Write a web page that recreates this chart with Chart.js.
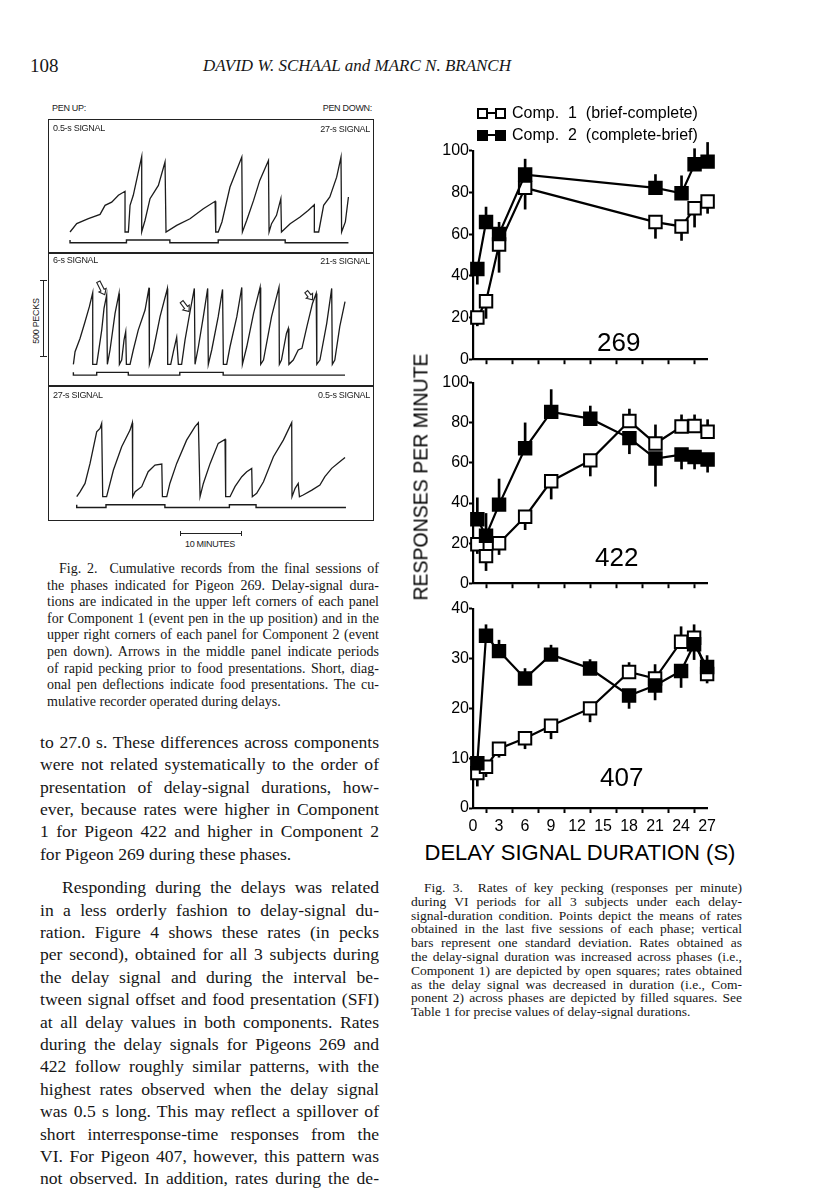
<!DOCTYPE html>
<html>
<head>
<meta charset="utf-8">
<script src="https://cdn.jsdelivr.net/npm/chart.js@4.4.1/dist/chart.umd.min.js"></script>
<style>
  body { margin: 0; background: #fff; }
  #page { position: relative; width: 816px; height: 1193px; overflow: hidden; background: #fff;
          font-family: "Liberation Serif", "Times New Roman", serif; color: #161616; }
  canvas, .abs { position: absolute; }
  .ln { position: absolute; white-space: pre; }
  .sans { font-family: "Liberation Sans", Arial, sans-serif; }
  .lbl { position: absolute; font-family: "Liberation Sans", Arial, sans-serif; font-size: 9px;
         line-height: 10px; white-space: nowrap; color: #222; letter-spacing: -0.3px; }
  .box { position: absolute; border: 1.5px solid #222; box-sizing: border-box; }
  .sq { position: absolute; width: 11px; height: 11px; box-sizing: border-box; border: 2px solid #000; }
</style>
</head>
<body>
<div id="page">
  <div class="abs" style="left:30px;top:56px;font-size:19px;line-height:20px;">108</div>
  <div class="abs" style="left:203px;top:56px;font-size:17px;line-height:20px;font-style:italic;">DAVID W. SCHAAL and MARC N. BRANCH</div>

  <!-- Fig. 2 cumulative records -->
  <div class="lbl" style="left:52px;top:103px;">PEN UP:</div>
  <div class="lbl" style="right:444px;top:103px;">PEN DOWN:</div>
  <div class="box" style="left:48px;top:119px;width:326px;height:402px;"></div>
  <div class="abs" style="left:48px;top:252px;width:326px;height:1.5px;background:#222;"></div>
  <div class="abs" style="left:48px;top:385px;width:326px;height:1.5px;background:#222;"></div>
  <canvas id="rec1" width="322" height="128" style="left:50px;top:124px;"></canvas>
  <canvas id="rec2" width="322" height="130" style="left:50px;top:255px;"></canvas>
  <canvas id="rec3" width="322" height="130" style="left:50px;top:388px;"></canvas>
  <div class="lbl" style="left:53px;top:123px;">0.5-s SIGNAL</div>
  <div class="lbl" style="right:446px;top:124px;">27-s SIGNAL</div>
  <div class="lbl" style="left:53px;top:255px;">6-s SIGNAL</div>
  <div class="lbl" style="right:446px;top:256px;">21-s SIGNAL</div>
  <div class="lbl" style="left:53px;top:390px;">27-s SIGNAL</div>
  <div class="lbl" style="right:446px;top:390px;">0.5-s SIGNAL</div>
  <div class="abs" style="left:43px;top:280px;width:1.2px;height:77px;background:#222;"></div>
  <div class="abs" style="left:40px;top:280px;width:7px;height:1.2px;background:#222;"></div>
  <div class="abs" style="left:40px;top:356px;width:7px;height:1.2px;background:#222;"></div>
  <div class="lbl" style="left:36px;top:321px;transform:translate(-50%,-50%) rotate(-90deg);">500 PECKS</div>
  <div class="abs" style="left:180px;top:533px;width:62px;height:1.2px;background:#222;"></div>
  <div class="abs" style="left:180px;top:531px;width:1.2px;height:5px;background:#222;"></div>
  <div class="abs" style="left:241px;top:531px;width:1.2px;height:5px;background:#222;"></div>
  <div class="lbl" style="left:185px;top:539px;">10 MINUTES</div>

  <!-- Fig. 3 legend -->
  <div class="sq" style="left:477px;top:108px;background:#fff;"></div>
  <div class="abs" style="left:487px;top:112px;width:9px;height:2px;background:#000;"></div>
  <div class="sq" style="left:495px;top:108px;background:#fff;"></div>
  <div class="abs sans" style="left:512px;top:103px;font-size:16px;line-height:20px;white-space:pre;color:#000;">Comp.  1  (brief-complete)</div>
  <div class="sq" style="left:477px;top:130px;background:#000;"></div>
  <div class="abs" style="left:487px;top:134px;width:9px;height:2px;background:#000;"></div>
  <div class="sq" style="left:495px;top:130px;background:#000;"></div>
  <div class="abs sans" style="left:512px;top:125px;font-size:16px;line-height:20px;white-space:pre;color:#000;">Comp.  2  (complete-brief)</div>

  <canvas id="p269" width="295" height="230" style="left:425px;top:140px;"></canvas>
  <canvas id="p422" width="295" height="222" style="left:425px;top:372px;"></canvas>
  <canvas id="p407" width="295" height="240" style="left:425px;top:598px;"></canvas>
  <div class="abs sans" style="left:421px;top:477px;transform:translate(-50%,-50%) rotate(-90deg);font-size:19.5px;white-space:nowrap;color:#000;">RESPONSES PER MINUTE</div>
  <div class="abs sans" style="left:580px;top:853px;transform:translate(-50%,-50%);font-size:22px;white-space:nowrap;color:#000;">DELAY SIGNAL DURATION (S)</div>
  <div class="abs sans" style="left:597px;top:327px;font-size:26px;line-height:30px;color:#000;">269</div>
  <div class="abs sans" style="left:595px;top:542px;font-size:26px;line-height:30px;color:#000;">422</div>
  <div class="abs sans" style="left:600px;top:762px;font-size:26px;line-height:30px;color:#000;">407</div>
</div>

<script>
// ---- Fig. 3: response rates (responses per minute) ----
const delays = [0.5, 1.5, 3, 6, 9, 13.5, 18, 21, 24, 25.5, 27];
const delays269 = [0.5, 1.5, 3, 6, 21, 24, 25.5, 27];
const xTickValues = [0, 3, 6, 9, 12, 15, 18, 21, 24, 27];
const yTicks100 = [0, 20, 40, 60, 80, 100];
const yTicks40 = [0, 10, 20, 30, 40];

// open squares = Comp. 1, filled = Comp. 2; sd sign gives the side the bar was drawn on
const comp1_269 = [20, 27.8, 55, 82.2, 65.8, 63.7, 72.4, 75.7];
const sd1_269 = [-4, -8.2, -13.3, -10.2, -7.8, -6.7, -9, -5.7];
const comp2_269 = [43.3, 65.8, 60.1, 88.6, 82.2, 79.6, 93.5, 94.8];
const sd2_269 = [-7.3, 7.2, 5.6, 7.4, 6.4, 8.4, 7.5, 9.2];

const comp1_422 = [19.4, 13.5, 19.9, 33.2, 50.9, 61.3, 80.9, 69.7, 78.2, 78.4, 75.6];
const sd1_422 = [-4.6, -7.2, -5.6, -6.5, -8.9, -7.8, 6, 9.3, 5.8, 5.6, 6];
const comp2_422 = [31.9, 23.7, 39.2, 67.3, 85.5, 82.1, 72.4, 62.2, 64.2, 63, 61.7];
const sd2_422 = [10.7, 11.1, 12.8, 12.7, 11.1, 6.3, -7.8, -13.8, -7.2, -6, -6.3];

const comp1_407 = [7.0, 8.3, 11.9, 14.0, 16.5, 20, 27.3, 26, 33.4, 34.2, 26.9];
const sd1_407 = [-2.6, -2.0, -1.7, -2.1, -2.6, -2.7, 1.9, 2.8, 3, 2.6, -1.8];
const comp2_407 = [9.0, 34.6, 31.5, 26, 30.8, 28, 22.6, 24.6, 27.5, 32.9, 28.3];
const sd2_407 = [-1.5, 2.2, 2.2, 2, 1.9, 1.8, -2.6, -2.9, -3.3, -3.1, 2.3];

// ---- Fig. 2: cumulative records, Pigeon 269 (minutes, cumulative pecks) ----
const rec1Min = [0, 1.08, 2.96, 4.84, 5.65, 6.72, 7.80, 8.87, 8.87, 9.41, 9.68, 10.2, 11.56, 11.56, 12.1, 12.9, 14.25, 15.32, 15.48, 17.2, 19.35, 21.5, 23.4, 23.5, 23.9, 24.5, 25.8, 27.7, 27.8, 28.5, 29.6, 30.6, 32.0, 32.1, 32.5, 33.3, 34.0, 34.1, 35.5, 37.1, 38.4, 39.4, 39.4, 40.1, 40.9, 41.9, 43.0, 43.7, 43.8, 44.4, 44.9];
const rec1Pecks = [0, 54, 86, 114, 173, 194, 238, 264, 0, 0, 173, 238, 490, 0, 76, 216, 302, 454, 0, 43, 86, 151, 199, 0, 0, 65, 292, 486, 0, 76, 205, 335, 464, 0, 54, 108, 216, 0, 54, 97, 140, 177, 0, 0, 173, 227, 356, 486, 0, 65, 227];
const pen1Min = [0, 9.1, 16.1, 23.9, 34.7, 39.9, 44.9];
const pen1Up = [1, 0, 1, 0, 1, 0, 0];

const rec2Min = [0.54, 0.81, 1.61, 2.42, 3.12, 3.66, 3.66, 4.30, 5.11, 5.48, 5.91, 6.02, 6.45, 7.26, 7.90, 7.96, 8.33, 8.71, 8.98, 9.09, 9.68, 10.2, 11.0, 12.1, 12.74, 12.8, 13.44, 14.52, 15.7, 15.75, 16.24, 16.67, 17.2, 17.47, 18.0, 18.55, 19.35, 20.05, 20.16, 20.7, 21.5, 22.2, 22.3, 22.85, 23.9, 24.6, 24.73, 25.27, 25.8, 26.9, 27.7, 27.8, 28.5, 29.6, 30.65, 30.75, 31.2, 32.5, 33.7, 33.76, 34.1, 34.9, 35.2, 35.3, 36.0, 36.8, 37.4, 38.2, 39.1, 39.7, 39.8, 40.3, 41.4, 42.2, 42.3, 42.7, 43.5, 44.35];
const rec2Pecks = [0, 82, 168, 276, 374, 464, 0, 0, 222, 363, 449, 0, 93, 330, 460, 0, 28, 158, 212, 0, 0, 93, 222, 352, 497, 0, 93, 309, 492, 0, 0, 82, 175, 0, 0, 158, 341, 492, 0, 114, 309, 492, 0, 93, 309, 486, 0, 0, 114, 309, 499, 0, 114, 330, 499, 0, 28, 309, 499, 0, 28, 201, 233, 0, 28, 93, 104, 244, 395, 460, 0, 28, 266, 492, 0, 28, 244, 406];
const pen2Min = [0.54, 4.3, 9.4, 17.7, 24.7, 35.7, 44.35];
const pen2Up = [1, 0, 1, 0, 1, 0, 0];
// arrows marking rapid pecking before food: [fromMin, fromPecks, toMin, toPecks]
const arrows2 = [[4.57, 536, 5.6, 452], [18.0, 406, 19.2, 343], [38.1, 471, 39.1, 419]];

const rec3Min = [1.08, 1.61, 2.42, 3.23, 4.3, 4.84, 5.1, 5.27, 5.9, 7.0, 8.33, 9.68, 10.05, 10.1, 10.5, 11.56, 12.6, 13.7, 14.8, 14.9, 15.6, 16.1, 17.2, 18.8, 20.16, 20.7, 20.97, 21.5, 22.6, 23.9, 25.0, 25.1, 25.8, 26.6, 27.7, 28.5, 29.3, 29.4, 30.1, 31.2, 32.8, 34.4, 35.75, 35.8, 36.3, 36.8, 37.0, 37.6, 39.0, 40.3, 41.1, 42.2, 43.5, 44.35];
const rec3Pecks = [0, 32, 86, 216, 421, 443, 475, 0, 0, 173, 324, 432, 480, 0, 32, 65, 162, 205, 212, 0, 0, 86, 216, 367, 454, 480, 0, 86, 216, 346, 372, 0, 0, 65, 130, 162, 184, 0, 22, 97, 259, 367, 480, 0, 54, 86, 0, 11, 43, 76, 130, 184, 227, 255];
const pen3Min = [1.08, 5.8, 15.3, 25.7, 30.0, 37.5, 44.5];
const pen3Up = [1, 0, 1, 0, 1, 0, 0];

// ---- text ----
const fig2Caption = [
  'Fig. 2.  Cumulative records from the final sessions of',
  'the phases indicated for Pigeon 269. Delay-signal dura-',
  'tions are indicated in the upper left corners of each panel',
  'for Component 1 (event pen in the up position) and in the',
  'upper right corners of each panel for Component 2 (event',
  'pen down). Arrows in the middle panel indicate periods',
  'of rapid pecking prior to food presentations. Short, diag-',
  'onal pen deflections indicate food presentations. The cu-',
  'mulative recorder operated during delays.'
];
const fig3Caption = [
  'Fig. 3.  Rates of key pecking (responses per minute)',
  'during VI periods for all 3 subjects under each delay-',
  'signal-duration condition. Points depict the means of rates',
  'obtained in the last five sessions of each phase; vertical',
  'bars represent one standard deviation. Rates obtained as',
  'the delay-signal duration was increased across phases (i.e.,',
  'Component 1) are depicted by open squares; rates obtained',
  'as the delay signal was decreased in duration (i.e., Com-',
  'ponent 2) across phases are depicted by filled squares. See',
  'Table 1 for precise values of delay-signal durations.'
];
const bodyText = [
  'to 27.0 s. These differences across components',
  'were not related systematically to the order of',
  'presentation of delay-signal durations, how-',
  'ever, because rates were higher in Component',
  '1 for Pigeon 422 and higher in Component 2',
  'for Pigeon 269 during these phases.',
  'Responding during the delays was related',
  'in a less orderly fashion to delay-signal du-',
  'ration. Figure 4 shows these rates (in pecks',
  'per second), obtained for all 3 subjects during',
  'the delay signal and during the interval be-',
  'tween signal offset and food presentation (SFI)',
  'at all delay values in both components. Rates',
  'during the delay signals for Pigeons 269 and',
  '422 follow roughly similar patterns, with the',
  'highest rates observed when the delay signal',
  'was 0.5 s long. This may reflect a spillover of',
  'short interresponse-time responses from the',
  'VI. For Pigeon 407, however, this pattern was',
  'not observed. In addition, rates during the de-'
];

const page = document.getElementById('page');
function typeset(lines, o) {
  let top = o.top;
  lines.forEach((s, i) => {
    const d = document.createElement('div');
    d.className = 'ln';
    d.textContent = s;
    const ind = (o.indent[i] || 0);
    d.style.left = (o.left + ind) + 'px';
    d.style.top = top + 'px';
    d.style.fontSize = o.size + 'px';
    d.style.lineHeight = o.lh + 'px';
    page.appendChild(d);
    if (!o.ragged.includes(i)) {
      const w = d.getBoundingClientRect().width;
      const gaps = (s.match(/ /g) || []).length;
      if (gaps) d.style.wordSpacing = ((o.width - ind - w) / gaps) + 'px';
    }
    top += o.lh + ((o.gap && o.gap[i]) || 0);
  });
}
typeset(fig2Caption, { left: 47, top: 561, width: 332, lh: 16.6, size: 14, indent: { 0: 12 }, ragged: [8] });
typeset(fig3Caption, { left: 411, top: 881, width: 331, lh: 13.8, size: 13.5, indent: { 0: 13 }, ragged: [9] });
typeset(bodyText, { left: 40, top: 730.8, width: 339, lh: 22.4, size: 17.6, indent: { 6: 22 }, ragged: [5], gap: { 5: 11 } });

// ---- charts ----
Chart.defaults.font.family = '"Liberation Sans", Arial, sans-serif';
Chart.defaults.color = '#000';
Chart.defaults.animation = false;
Chart.defaults.plugins.legend.display = false;
Chart.defaults.plugins.tooltip.enabled = false;

function fitArea(chart, t) {
  for (let k = 0; k < 2; k++) {
    const a = chart.chartArea, p = chart.options.layout.padding;
    p.left += t.left - a.left;
    p.top += t.top - a.top;
    p.right += a.right - t.right;
    p.bottom += a.bottom - t.bottom;
    chart.update('none');
  }
}

function ratePanel(id, xs, open, openSd, filled, filledSd, yMax, yTicks, last, target) {
  const pts = v => xs.map((x, i) => ({ x, y: v[i] }));
  const bars = (v, sd) => xs.map((x, i) => ({ x, y: [v[i], v[i] + sd[i]] }));
  const lineDs = (v, fill, order) => ({
    type: 'line', data: pts(v), borderColor: '#000', borderWidth: 2.2, tension: 0,
    pointStyle: 'rect', pointRadius: 8.8, pointBorderWidth: 2, pointBorderColor: '#000',
    pointBackgroundColor: fill, clip: false, order
  });
  const barDs = (v, sd, order) => ({
    type: 'bar', data: bars(v, sd), backgroundColor: '#000', barThickness: 2,
    grouped: false, clip: false, order
  });
  const chart = new Chart(document.getElementById(id), {
    type: 'line',
    data: { datasets: [lineDs(filled, '#000', 0), lineDs(open, '#fff', 1), barDs(filled, filledSd, 2), barDs(open, openSd, 3)] },
    options: {
      responsive: false,
      layout: { padding: { left: 0, right: 0, top: 0, bottom: 0 } },
      scales: {
        x: {
          type: 'linear', min: 0, max: 27, offset: false,
          afterBuildTicks: s => { s.ticks = xTickValues.map(v => ({ value: v })); },
          grid: { drawOnChartArea: false, drawTicks: true, tickLength: 5, tickWidth: 2, tickColor: '#000' },
          border: { display: true, color: '#000', width: 2.2 },
          ticks: { display: last, font: { size: 16 }, padding: 4, maxRotation: 0, autoSkip: false }
        },
        y: {
          min: 0, max: yMax,
          afterBuildTicks: s => { s.ticks = yTicks.map(v => ({ value: v })); },
          grid: { drawOnChartArea: false, drawTicks: true, tickLength: 4, tickWidth: 2, tickColor: '#000' },
          border: { display: true, color: '#000', width: 2.2 },
          ticks: { font: { size: 16 }, padding: 0 }
        }
      }
    }
  });
  fitArea(chart, target);
  return chart;
}

ratePanel('p269', delays269, comp1_269, sd1_269, comp2_269, sd2_269, 100, yTicks100, false,
  { left: 48, right: 278, top: 13, bottom: 217 });
ratePanel('p422', delays, comp1_422, sd1_422, comp2_422, sd2_422, 100, yTicks100, false,
  { left: 48, right: 278, top: 13, bottom: 209 });
ratePanel('p407', delays, comp1_407, sd1_407, comp2_407, sd2_407, 40, yTicks40, true,
  { left: 48, right: 278, top: 14, bottom: 210 });

const penArrows = {
  id: 'penArrows',
  afterDatasetsDraw(chart, args, opts) {
    if (!opts.list) return;
    const { ctx, scales: { x, y } } = chart;
    opts.list.forEach(a => {
      const x1 = x.getPixelForValue(a[0]), y1 = y.getPixelForValue(a[1]);
      const x2 = x.getPixelForValue(a[2]), y2 = y.getPixelForValue(a[3]);
      const len = Math.hypot(x2 - x1, y2 - y1);
      ctx.save();
      ctx.translate(x1, y1);
      ctx.rotate(Math.atan2(y2 - y1, x2 - x1));
      ctx.beginPath();
      ctx.moveTo(0, -1.8); ctx.lineTo(len - 5, -1.8); ctx.lineTo(len - 5, -4);
      ctx.lineTo(len, 0); ctx.lineTo(len - 5, 4); ctx.lineTo(len - 5, 1.8); ctx.lineTo(0, 1.8);
      ctx.closePath();
      ctx.fillStyle = '#fff'; ctx.fill();
      ctx.lineWidth = 1.1; ctx.strokeStyle = '#222'; ctx.stroke();
      ctx.restore();
    });
  }
};

const PEN_UP = -52, PEN_DOWN = -70;
function recordPanel(id, mins, pecks, penMin, penUp, yMin, yMax, arrows) {
  new Chart(document.getElementById(id), {
    type: 'line',
    data: {
      datasets: [
        { data: mins.map((m, i) => ({ x: m, y: pecks[i] })), borderColor: '#1c1c1c', borderWidth: 1.3,
          pointRadius: 0, tension: 0 },
        { data: penMin.map((m, i) => ({ x: m, y: penUp[i] ? PEN_UP : PEN_DOWN })), borderColor: '#1c1c1c',
          borderWidth: 1.4, pointRadius: 0, stepped: 'after' }
      ]
    },
    options: {
      responsive: false,
      layout: { padding: 0 },
      scales: {
        x: { type: 'linear', display: false, min: -3.23, max: 48.7 },
        y: { display: false, min: yMin, max: yMax }
      },
      plugins: { penArrows: { list: arrows } }
    },
    plugins: [penArrows]
  });
}
recordPanel('rec1', rec1Min, rec1Pecks, pen1Min, pen1Up, -130, 701, null);
recordPanel('rec2', rec2Min, rec2Pecks, pen2Min, pen2Up, -134, 709, arrows2);
recordPanel('rec3', rec3Min, rec3Pecks, pen3Min, pen3Up, -138, 705, null);
</script>
</body>
</html>
